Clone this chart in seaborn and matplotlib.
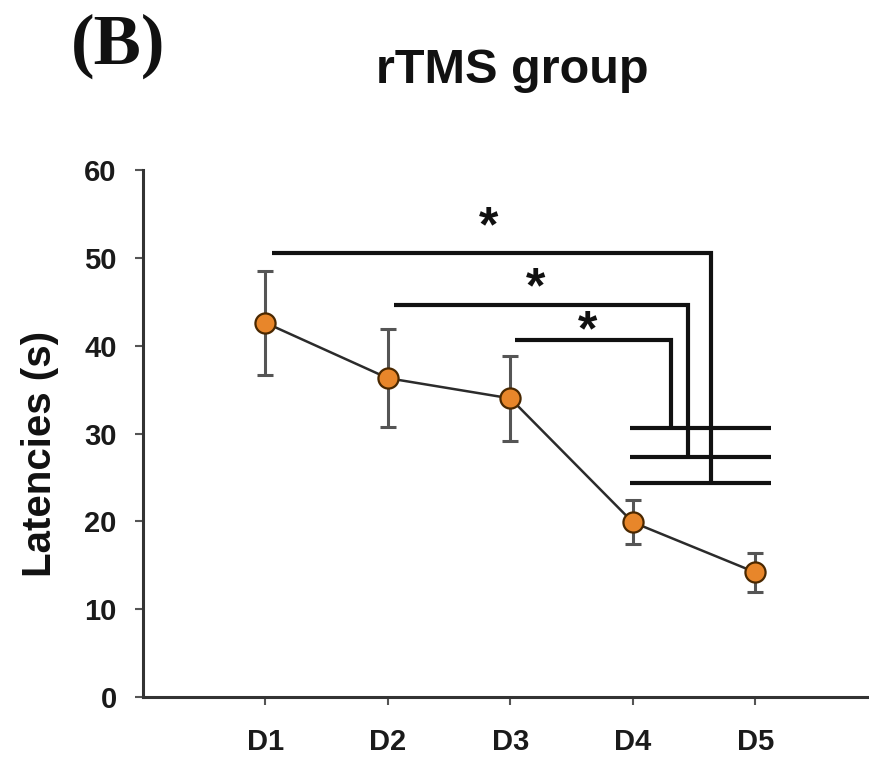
import matplotlib
matplotlib.use("Agg")
import matplotlib.pyplot as plt
import seaborn as sns
import numpy as np
import pandas as pd

# Escape latency per training day (mean ± SE)
days = ["D1", "D2", "D3", "D4", "D5"]
latency_mean = [42.6, 36.3, 34.0, 19.9, 14.2]
latency_se = [5.9, 5.6, 4.8, 2.5, 2.2]

# Significant comparisons: bracket start (day index), drop position, bar height, drop end
sig_start = [0.05, 1.05, 2.04]
sig_drop_x = [3.64, 3.45, 3.31]
sig_heights = [50.6, 44.6, 40.7]
sig_drop_end = [24.4, 27.3, 30.6]
star_x = [1.82, 2.21, 2.63]
star_y = [54.4, 47.4, 42.6]

sns.set_theme(style="white")
plt.rcParams["font.family"] = ["Liberation Sans", "DejaVu Sans"]

df = pd.DataFrame({"day": np.arange(len(days)), "latency": latency_mean})

fig = plt.figure(figsize=(8.69, 7.62), dpi=100)
ax = fig.add_axes([0.1646, 0.0853, 0.8354, 0.6916])

ax.errorbar(df["day"], df["latency"], yerr=latency_se, fmt="none",
            ecolor="#555555", elinewidth=2.2, capsize=6, capthick=2.2, zorder=2)
sns.lineplot(data=df, x="day", y="latency", ax=ax, color="#2b2b2b",
             linewidth=1.8, zorder=3)
sns.scatterplot(data=df, x="day", y="latency", ax=ax, s=210,
                color="#E8862A", edgecolor="#4a2800", linewidth=1.6, zorder=4)

# Significance brackets
sig_color = "#111111"
star_fs = 36
for x0, x1, h, d in zip(sig_start, sig_drop_x, sig_heights, sig_drop_end):
    ax.plot([x0, x1, x1], [h, h, d], color=sig_color, lw=3.0,
            solid_capstyle="butt", solid_joinstyle="miter", zorder=5)
for d in sig_drop_end:
    ax.plot([2.98, 4.13], [d, d], color=sig_color, lw=3.0,
            solid_capstyle="butt", zorder=5)
for sx, sy in zip(star_x, star_y):
    ax.annotate("*", xy=(sx, sy), xytext=(0, -0.44 * star_fs),
                textcoords="offset points", ha="center", va="baseline",
                fontsize=star_fs, fontweight="bold", color=sig_color)

ax.set_xlim(-1.0, 4.93)
ax.set_ylim(0, 60)
ax.set_yticks(np.arange(0, 61, 10))
ax.set_xticks(df["day"])
ax.set_xticklabels(days)

for side in ("top", "right"):
    ax.spines[side].set_visible(False)
for side in ("left", "bottom"):
    ax.spines[side].set_color("#333333")
    ax.spines[side].set_linewidth(2.2)

ax.tick_params(axis="both", which="major", direction="out", length=6,
               width=1.5, color="#555555", labelsize=21, labelcolor="#1a1a1a")
ax.tick_params(axis="y", pad=13)
ax.tick_params(axis="x", pad=16)
ax.tick_params(left=True, bottom=True)
for lab in ax.get_xticklabels() + ax.get_yticklabels():
    lab.set_fontweight("bold")

ax.set_xlabel("")
ax.set_ylabel("")
fig.text(0.046, 0.404, "Latencies (s)", rotation=90, ha="center", va="center",
         fontsize=29, fontweight="bold", color="#111111")

fig.text(0.589, 0.891, "rTMS group", ha="center", va="baseline", fontsize=35,
         fontweight="bold", color="#111111")
fig.text(0.136, 0.917, "(B)", ha="center", va="baseline", fontsize=51,
         fontweight="bold", family=["Liberation Serif", "DejaVu Serif"],
         color="#111111")

fig.savefig("out.png", dpi=100, facecolor="white")
